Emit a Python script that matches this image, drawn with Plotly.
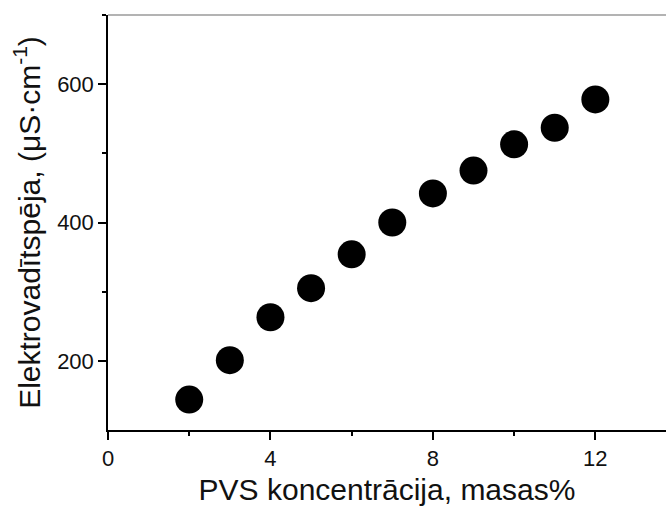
import plotly.graph_objects as go

# PVS concentration (mass %) and measured conductivity (uS/cm)
concentration = [2, 3, 4, 5, 6, 7, 8, 9, 10, 11, 12]
conductivity = [144, 201, 263, 305, 354, 400, 442, 475, 513, 537, 578]

x_ticks = [0, 4, 8, 12]
y_ticks = [200, 400, 600]

fig = go.Figure()
fig.add_trace(go.Scatter(
    x=concentration, y=conductivity, mode="markers",
    marker=dict(size=28, color="black", line=dict(width=0)),
    showlegend=False,
))

font_family = "Liberation Sans, Arial, sans-serif"

fig.update_layout(
    width=666, height=509,
    margin=dict(l=108, r=0, t=15, b=79),
    plot_bgcolor="white", paper_bgcolor="white",
    font=dict(family=font_family, color="#111111"),
    xaxis=dict(
        range=[0, 13.74], tickvals=x_ticks, ticks="outside", ticklen=8, tickwidth=1.5,
        tickcolor="black", showline=True, linecolor="black", linewidth=1.5,
        showgrid=False, zeroline=False, tickfont=dict(size=22),
        minor=dict(tickvals=[2, 6, 10], ticks="outside", ticklen=4, tickwidth=1.5, tickcolor="black"),
        title=dict(text="PVS koncentrācija, masas%", font=dict(size=30), standoff=9),
    ),
    yaxis=dict(
        range=[100, 700], tickvals=y_ticks, ticks="outside", ticklen=8, tickwidth=1.5,
        tickcolor="black", showline=True, linecolor="black", linewidth=1.5,
        showgrid=False, zeroline=False, tickfont=dict(size=22),
        minor=dict(tickvals=[300, 500, 700], ticks="outside", ticklen=4, tickwidth=1.5, tickcolor="black"),
        title=dict(text="Elektrovadītspēja, (μS·cm<sup>-1</sup>)", font=dict(size=30), standoff=8),
    ),
    shapes=[dict(type="line", xref="paper", yref="paper", x0=0, x1=1, y0=1, y1=1,
                 line=dict(color="#9a9a9a", width=1.5))],
)

fig.write_html("out.html")
